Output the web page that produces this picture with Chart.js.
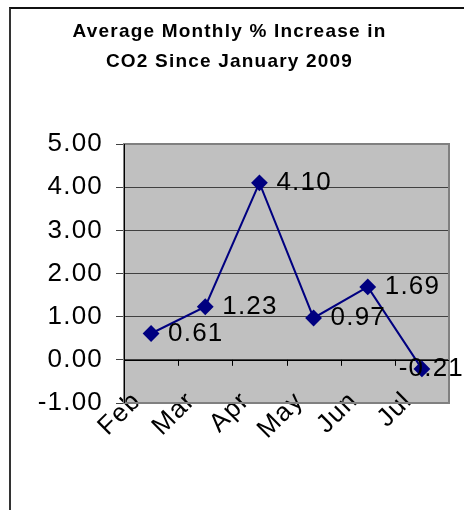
<!DOCTYPE html>
<html>
<head>
<meta charset="utf-8">
<script src="https://cdn.jsdelivr.net/npm/chart.js@4/dist/chart.umd.min.js"></script>
<style>
  body { margin: 0; background: #fff; overflow: hidden; }
  .frame { position: absolute; left: 9px; top: 7px; width: 700px; height: 700px; border-left: 2px solid #333; border-top: 2px solid #111; }
  .wrap { position: absolute; left: 0; top: 0; width: 464px; height: 510px; }
</style>
</head>
<body>
<div class="frame"></div>
<div class="wrap"><canvas id="myChart"></canvas></div>
<script>
const months = ['Feb', 'Mar', 'Apr', 'May', 'Jun', 'Jul'];
const pctIncrease = [0.61, 1.23, 4.10, 0.97, 1.69, -0.21];
const titleLines = ['Average Monthly % Increase in', 'CO2 Since January 2009'];
const yMin = -1, yMax = 5, yStep = 1;

const fontFam = "'Liberation Sans', Arial, sans-serif";
Chart.defaults.color = '#000';
Chart.defaults.font.family = fontFam;

// excel-ish spacing between letters
const spacing = {
  id: 'spacing',
  beforeLayout(chart) { chart.ctx.letterSpacing = '1.2px'; },
  beforeDraw(chart) {
    const ctx = chart.ctx;
    const a = chart.chartArea;
    ctx.letterSpacing = '1.2px';
    ctx.save();
    ctx.fillStyle = '#c0c0c0';
    ctx.fillRect(a.left, a.top, a.width, a.height);
    ctx.restore();
  }
};

const plotFrame = {
  id: 'plotFrame',
  beforeDatasetsDraw(chart) {
    const ctx = chart.ctx;
    const a = chart.chartArea;
    const x = chart.scales.x;
    const y0 = chart.scales.y.getPixelForValue(0);
    ctx.save();
    ctx.strokeStyle = '#808080';
    ctx.lineWidth = 2;
    ctx.strokeRect(a.left, a.top, a.width, a.height);
    ctx.strokeStyle = '#000';
    ctx.lineWidth = 1;
    ctx.beginPath();
    ctx.moveTo(a.left + 0.5, a.top);
    ctx.lineTo(a.left + 0.5, a.bottom);
    ctx.moveTo(a.left, Math.round(y0) + 0.5);
    ctx.lineTo(a.right, Math.round(y0) + 0.5);
    for (let i = 0; i < months.length - 1; i++) {
      const bx = Math.round((x.getPixelForValue(i) + x.getPixelForValue(i + 1)) / 2) + 0.5;
      ctx.moveTo(bx, y0);
      ctx.lineTo(bx, y0 + 6);
    }
    ctx.stroke();
    ctx.restore();
  },
  afterDatasetsDraw(chart) {
    const ctx = chart.ctx;
    const meta = chart.getDatasetMeta(0);
    ctx.save();
    ctx.font = '26px ' + fontFam;
    ctx.fillStyle = '#000';
    ctx.textBaseline = 'middle';
    ctx.textAlign = 'left';
    meta.data.forEach((pt, i) => {
      const txt = pctIncrease[i].toFixed(2);
      const w = ctx.measureText(txt).width;
      let tx = pt.x + 17;
      if (tx + w > chart.width) tx = chart.width - w;
      ctx.fillText(txt, tx, pt.y);
    });
    ctx.restore();
  }
};

const ctx = document.getElementById('myChart').getContext('2d');
const myChart = new Chart(ctx, {
  type: 'line',
  data: {
    labels: months,
    datasets: [{
      data: pctIncrease,
      borderColor: '#000080',
      backgroundColor: '#000080',
      borderWidth: 2,
      pointStyle: 'rectRot',
      pointRadius: 7,
      pointHoverRadius: 7,
      tension: 0
    }]
  },
  options: {
    responsive: true,
    maintainAspectRatio: false,
    animation: false,
    layout: { padding: { left: 10, right: 15, top: 0, bottom: 0 } },
    plugins: {
      legend: { display: false },
      tooltip: { enabled: false },
      title: {
        display: true,
        text: titleLines,
        color: '#000',
        font: { size: 19, weight: 'bold', lineHeight: 30 / 19 },
        padding: { top: 17, bottom: 67 }
      }
    },
    scales: {
      x: {
        offset: true,
        grid: { display: false },
        border: { display: false },
        ticks: {
          font: { size: 26 },
          color: '#000',
          autoSkip: false,
          minRotation: 45,
          maxRotation: 45,
          mirror: true,   // mirror keeps labels from being clipped at the plot edge; padding then works upwards
          padding: -5,
          labelOffset: 8
        },
        afterFit(s) { s.height = 107; }
      },
      y: {
        min: yMin,
        max: yMax,
        grid: { color: '#404040', lineWidth: 1, tickLength: 8 },
        border: { display: false },
        ticks: {
          stepSize: yStep,
          font: { size: 26 },
          color: '#000',
          padding: 13,
          callback: v => v.toFixed(2)
        },
        afterFit(s) { s.width = 114; }
      }
    }
  },
  plugins: [spacing, plotFrame]
});
</script>
</body>
</html>
